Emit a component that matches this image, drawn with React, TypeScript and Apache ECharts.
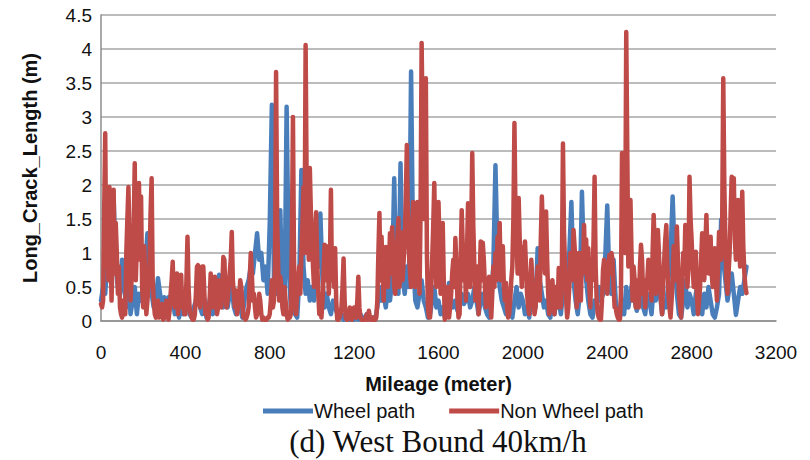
import React, { useEffect, useRef } from "react";
import * as echarts from "echarts";

// Sampling intervals along the road (meters between readings)
const WHEEL_STEP = 10;
const NON_WHEEL_STEP = 5;

const xTicks = [0, 400, 800, 1200, 1600, 2000, 2400, 2800, 3200];
const yTicks = [0, 0.5, 1, 1.5, 2, 2.5, 3, 3.5, 4, 4.5];

// Wheel path crack length (m), one reading every 10 m from 0 m
const wheelPath = [
  0.3, 0.5, 0.4, 0.9, 1.2, 0.6, 1.8, 0.8, 0.5, 0.4, 0.9, 0.5, 0.2, 0.6, 0.1, 0.3, 0.5, 0.1, 0.4, 0.3,
  0.5, 0.8, 1.29, 0.7, 0.4, 0.2, 0.3, 0.63, 0.4, 0.2, 0.35, 0.1, 0.35, 0.2, 0.3, 0.1, 0.2, 0.05, 0.3, 0.1,
  0.2, 0.4, 0.1, 0.05, 0.2, 0.3, 0.5, 0.2, 0.1, 0.3, 0.05, 0.2, 0.4, 0.1, 0.3, 0.5, 0.68, 0.4, 0.2, 0.3,
  0.2, 0.4, 0.5, 0.2, 0.1, 0.3, 0.2, 0.05, 0.3, 0.5, 0.6, 0.8, 0.7, 1.0, 1.29, 0.9, 1.0, 0.6, 0.8, 0.4,
  1.44, 3.18, 0.6, 0.4, 0.6, 1.63, 0.3, 0.2, 3.15, 0.8, 0.2, 0.3, 0.1, 0.05, 0.6, 2.22, 0.8, 0.4, 0.6, 0.3,
  0.5, 0.3, 0.8, 0.8, 1.58, 0.6, 0.2, 0.4, 0.2, 0.1, 0.3, 0.2, 0.1, 0.05, 0.1, 0.02, 0.1, 0.05, 0.02, 0.1,
  0.02, 0.05, 0.02, 0.1, 0.02, 0.05, 0.1, 0.08, 0.02, 0.05, 0.02, 0.2, 0.5, 0.3, 0.4, 0.2, 0.5, 0.3, 0.6, 2.1,
  0.5, 0.4, 2.32, 0.6, 0.4, 0.8, 0.5, 3.67, 0.9, 0.3, 0.2, 0.4, 0.6, 0.3, 0.2, 0.05, 0.1, 0.3, 0.5, 0.2,
  0.3, 0.1, 0.2, 0.05, 0.3, 0.56, 0.3, 0.2, 0.3, 0.15, 0.3, 0.4, 0.25, 0.3, 0.4, 0.2, 0.3, 0.5, 0.3, 0.1,
  0.3, 0.4, 0.2, 0.1, 0.05, 0.4, 0.8, 2.29, 0.9, 0.5, 0.3, 0.2, 0.1, 0.3, 0.2, 0.05, 0.3, 0.5, 0.2, 0.4,
  0.3, 0.1, 0.2, 0.05, 0.3, 0.6, 0.2, 1.07, 0.6, 0.4, 0.2, 0.3, 0.1, 0.05, 0.3, 0.1, 0.5, 0.3, 0.1, 0.4,
  0.3, 0.6, 1.0, 1.75, 0.6, 0.3, 0.1, 0.4, 1.9, 0.8, 0.6, 0.3, 0.1, 0.05, 0.3, 0.2, 0.5, 0.3, 0.4, 0.9,
  1.7, 0.6, 0.4, 0.9, 0.3, 0.1, 0.05, 0.3, 0.1, 0.5, 0.2, 0.4, 0.6, 0.3, 0.15, 0.3, 0.5, 0.2, 0.1, 0.4,
  0.3, 0.1, 0.5, 0.3, 0.6, 0.4, 0.1, 0.3, 0.2, 0.6, 1.0, 1.83, 0.9, 0.4, 0.1, 0.05, 0.3, 0.6, 0.2, 0.4,
  0.3, 0.1, 0.4, 0.6, 0.3, 0.1, 0.4, 0.2, 0.5, 0.3, 0.1, 0.05, 0.2, 0.4, 1.49, 0.9, 0.6, 0.3, 0.5, 0.7,
  0.4, 0.09, 0.3, 0.5, 0.4, 0.6, 0.8,
];

// Non wheel path crack length (m), one reading every 5 m from 0 m
const nonWheelPath = [
  0.25, 0.2, 0.3, 1.6, 2.76, 0.8, 1.4, 0.6, 1.97, 1.2, 0.3, 1.0, 1.93, 0.7, 1.44, 1.0, 0.4, 0.8, 0.2, 0.1, 0.05, 0.3, 0.2, 0.1, 1.0, 1.5, 1.97, 1.2, 0.3, 0.6, 0.7, 1.4, 2.32, 0.6, 1.1, 1.6, 2.03, 0.9, 1.83, 0.5,
  0.2, 1.1, 0.6, 0.1, 0.3, 0.5, 0.8, 1.6, 2.1, 0.6, 0.3, 0.1, 0.05, 0.15, 0.3, 0.05, 0.1, 0.2, 0.25, 0.02, 0.05, 0.2, 0.3, 0.1, 0.02, 0.15, 0.4, 0.6, 0.87, 0.3, 0.2, 0.5, 0.7, 0.1, 0.3, 0.5, 0.68, 0.2, 0.3, 0.1,
  0.1, 0.6, 1.24, 0.5, 0.2, 0.1, 0.05, 0.02, 0.02, 0.1, 0.4, 0.8, 0.82, 0.3, 0.2, 0.6, 0.8, 0.8, 0.4, 0.1, 0.2, 0.02, 0.05, 0.3, 0.7, 0.5, 0.2, 0.4, 0.65, 0.3, 0.1, 0.2, 0.6, 0.4, 0.2, 0.5, 0.94, 0.9, 0.4, 0.2,
  0.3, 0.5, 0.7, 0.9, 1.31, 0.6, 0.4, 0.2, 0.45, 0.1, 0.2, 0.3, 0.6, 0.5, 0.3, 0.05, 0.1, 0.02, 0.05, 0.1, 0.2, 0.6, 1.0, 0.7, 0.3, 0.4, 0.2, 0.05, 0.1, 0.2, 0.4, 0.3, 0.1, 0.02, 0.05, 0.02, 0.02, 0.02, 0.05, 0.05,
  0.1, 0.3, 0.6, 0.2, 0.3, 0.8, 3.66, 1.5, 0.8, 0.3, 0.65, 0.5, 0.2, 0.1, 0.5, 0.3, 0.1, 0.02, 0.05, 0.05, 0.1, 1.2, 3.0, 0.9, 0.2, 0.1, 0.4, 0.6, 0.8, 0.4, 1.0, 1.4, 1.97, 1.0, 4.06, 2.0, 1.6, 0.9, 2.25, 1.6,
  1.29, 0.8, 0.5, 1.0, 1.6, 0.9, 0.4, 0.1, 0.2, 0.05, 0.3, 0.7, 1.12, 0.6, 1.1, 0.9, 0.4, 0.8, 1.93, 0.6, 1.07, 0.5, 1.07, 0.3, 0.02, 0.02, 0.05, 0.1, 0.2, 0.5, 0.92, 0.3, 0.05, 0.02, 0.02, 0.1, 0.2, 0.05, 0.02, 0.1,
  0.2, 0.1, 0.05, 0.3, 0.65, 0.2, 0.05, 0.02, 0.02, 0.02, 0.02, 0.05, 0.1, 0.02, 0.15, 0.05, 0.02, 0.02, 0.05, 0.02, 0.02, 0.05, 0.3, 1.0, 1.59, 0.6, 1.24, 0.7, 0.3, 0.8, 1.09, 0.9, 0.5, 0.8, 1.29, 0.7, 1.38, 1.0, 0.5, 0.4,
  0.8, 1.2, 1.51, 0.5, 0.9, 1.3, 0.6, 0.9, 1.2, 1.8, 2.59, 1.5, 1.0, 0.7, 0.5, 1.3, 1.75, 1.0, 0.5, 1.2, 1.75, 0.8, 0.4, 1.6, 4.09, 2.8, 1.5, 2.5, 3.57, 1.0, 0.2, 0.05, 0.05, 0.4, 0.9, 1.4, 2.03, 1.1, 0.5, 1.2,
  1.75, 1.1, 0.4, 1.2, 1.44, 0.6, 0.02, 0.1, 0.3, 0.5, 0.05, 0.2, 0.4, 0.7, 0.9, 0.5, 1.22, 0.8, 0.3, 0.05, 0.1, 0.9, 1.63, 1.1, 0.6, 0.9, 0.3, 1.0, 1.73, 1.2, 0.5, 1.3, 2.47, 1.4, 0.8, 0.3, 0.4, 0.8, 0.1, 0.6,
  1.17, 0.6, 1.15, 0.9, 0.5, 0.2, 0.3, 0.5, 0.65, 0.3, 0.05, 0.4, 0.8, 0.5, 1.0, 0.6, 1.24, 0.9, 1.44, 0.6, 0.8, 1.1, 0.5, 0.3, 0.56, 0.2, 0.05, 0.1, 0.3, 0.6, 0.8, 1.5, 2.91, 1.6, 1.2, 0.7, 1.81, 1.2, 0.9, 0.5,
  1.09, 0.7, 1.17, 0.8, 0.4, 0.2, 0.1, 0.5, 0.9, 0.6, 0.4, 0.1, 0.2, 0.5, 0.8, 0.6, 0.3, 1.2, 1.83, 1.3, 1.0, 0.7, 1.61, 0.9, 0.4, 0.1, 0.2, 0.5, 0.6, 0.3, 0.1, 0.5, 0.4, 0.2, 0.78, 0.5, 0.2, 0.8, 2.61, 1.3,
  0.8, 0.3, 0.05, 0.2, 0.5, 1.0, 0.9, 0.6, 1.34, 1.1, 0.8, 0.2, 0.4, 1.0, 0.7, 0.3, 1.0, 0.7, 1.41, 0.8, 1.2, 0.6, 1.07, 0.5, 0.2, 0.9, 0.6, 1.2, 2.12, 0.8, 0.3, 0.1, 0.05, 0.02, 0.02, 0.3, 0.75, 0.9, 0.5, 0.7,
  0.4, 0.8, 0.97, 0.7, 1.0, 0.9, 0.5, 0.2, 0.2, 0.1, 0.05, 0.02, 0.02, 0.4, 2.47, 2.45, 2.4, 1.0, 4.25, 2.5, 0.8, 1.2, 1.78, 1.0, 0.3, 0.8, 0.6, 0.2, 0.5, 0.6, 0.2, 0.8, 1.12, 0.9, 0.4, 0.6, 0.2, 0.5, 0.6, 0.9,
  0.87, 0.5, 0.3, 1.0, 1.56, 1.1, 0.4, 0.8, 1.34, 1.0, 0.5, 0.3, 0.1, 0.6, 0.9, 1.2, 1.41, 0.8, 0.4, 0.2, 0.05, 0.3, 0.6, 1.1, 1.0, 0.6, 1.39, 0.9, 0.4, 0.2, 0.05, 0.5, 1.0, 0.7, 1.41, 1.0, 0.5, 0.8, 2.12, 1.5,
  1.19, 0.8, 0.5, 0.9, 1.02, 0.4, 0.1, 0.3, 0.5, 0.9, 1.29, 0.9, 0.6, 1.1, 1.56, 1.0, 0.7, 0.9, 1.24, 0.7, 0.5, 0.9, 1.07, 0.6, 0.3, 0.8, 1.31, 1.0, 0.9, 1.5, 3.57, 2.0, 1.2, 0.6, 0.4, 0.7, 1.0, 1.6, 2.12, 1.5,
  2.1, 1.2, 0.9, 1.4, 1.78, 1.2, 0.8, 1.3, 1.9, 1.1, 0.7, 0.5, 0.41,
];

const seriesNames = ["Wheel path", "Non Wheel path"];
const seriesColors = ["#4A7EBB", "#BE4B48"];

const toPairs = (vals: number[], step: number) => vals.map((v, i) => [i * step, v]);

const SANS = "'Liberation Sans', Arial, sans-serif";
const SERIF = "'Liberation Serif', 'Times New Roman', serif";

export default function App() {
  const ref = useRef<HTMLDivElement>(null);

  useEffect(() => {
    if (!ref.current) return;
    const chart = echarts.init(ref.current, null, { renderer: "svg" });
    chart.setOption({
      animation: false,
      backgroundColor: "#ffffff",
      grid: { left: 101, right: 34, top: 15, bottom: 139, containLabel: false },
      xAxis: {
        type: "value",
        min: xTicks[0],
        max: xTicks[xTicks.length - 1],
        interval: 400,
        name: "Mileage (meter)",
        nameLocation: "middle",
        nameGap: 53,
        nameTextStyle: { fontFamily: SANS, fontWeight: "bold", fontSize: 20, color: "#111" },
        axisLine: { show: true, lineStyle: { color: "#8c8c8c", width: 1.5 } },
        axisTick: { show: false },
        splitLine: { show: false },
        axisLabel: {
          fontFamily: SANS,
          fontSize: 19,
          color: "#111",
          margin: 22,
          formatter: (v: number) => String(v),
        },
      },
      yAxis: {
        type: "value",
        min: yTicks[0],
        max: yTicks[yTicks.length - 1],
        interval: 0.5,
        name: "Long_Crack_Length (m)",
        nameLocation: "middle",
        nameGap: 61,
        nameTextStyle: { fontFamily: SANS, fontWeight: "bold", fontSize: 20, color: "#111" },
        axisLine: { show: true, lineStyle: { color: "#8c8c8c", width: 1.5 } },
        axisTick: { show: false },
        splitLine: { show: true, lineStyle: { color: "#a6a6a6", width: 1.5 } },
        axisLabel: {
          fontFamily: SANS,
          fontSize: 19,
          color: "#111",
          margin: 9,
          formatter: (v: number) => String(v),
        },
      },
      legend: {
        left: 258,
        top: 396,
        itemWidth: 50,
        itemHeight: 5,
        itemGap: 34,
        icon: "rect",
        textStyle: { fontFamily: SANS, fontSize: 20, color: "#111", padding: [0, 0, 0, -4] },
        data: seriesNames,
      },
      graphic: [
        {
          type: "text",
          x: 438,
          y: 426,
          style: {
            text: "(d) West Bound 40km/h",
            fontFamily: SERIF,
            fontSize: 31,
            fill: "#111",
            align: "center",
            verticalAlign: "top",
          },
        },
      ],
      series: [
        {
          name: seriesNames[0],
          type: "line",
          data: toPairs(wheelPath, WHEEL_STEP),
          showSymbol: false,
          symbol: "none",
          color: seriesColors[0],
          lineStyle: { width: 4.5, color: seriesColors[0], join: "round", cap: "round" },
          z: 2,
        },
        {
          name: seriesNames[1],
          type: "line",
          data: toPairs(nonWheelPath, NON_WHEEL_STEP),
          showSymbol: false,
          symbol: "none",
          color: seriesColors[1],
          lineStyle: { width: 4.5, color: seriesColors[1], join: "round", cap: "round" },
          z: 3,
        },
      ],
    });
    return () => chart.dispose();
  }, []);

  return <div ref={ref} style={{ width: 810, height: 460, position: "absolute", left: 0, top: 0 }} />;
}
